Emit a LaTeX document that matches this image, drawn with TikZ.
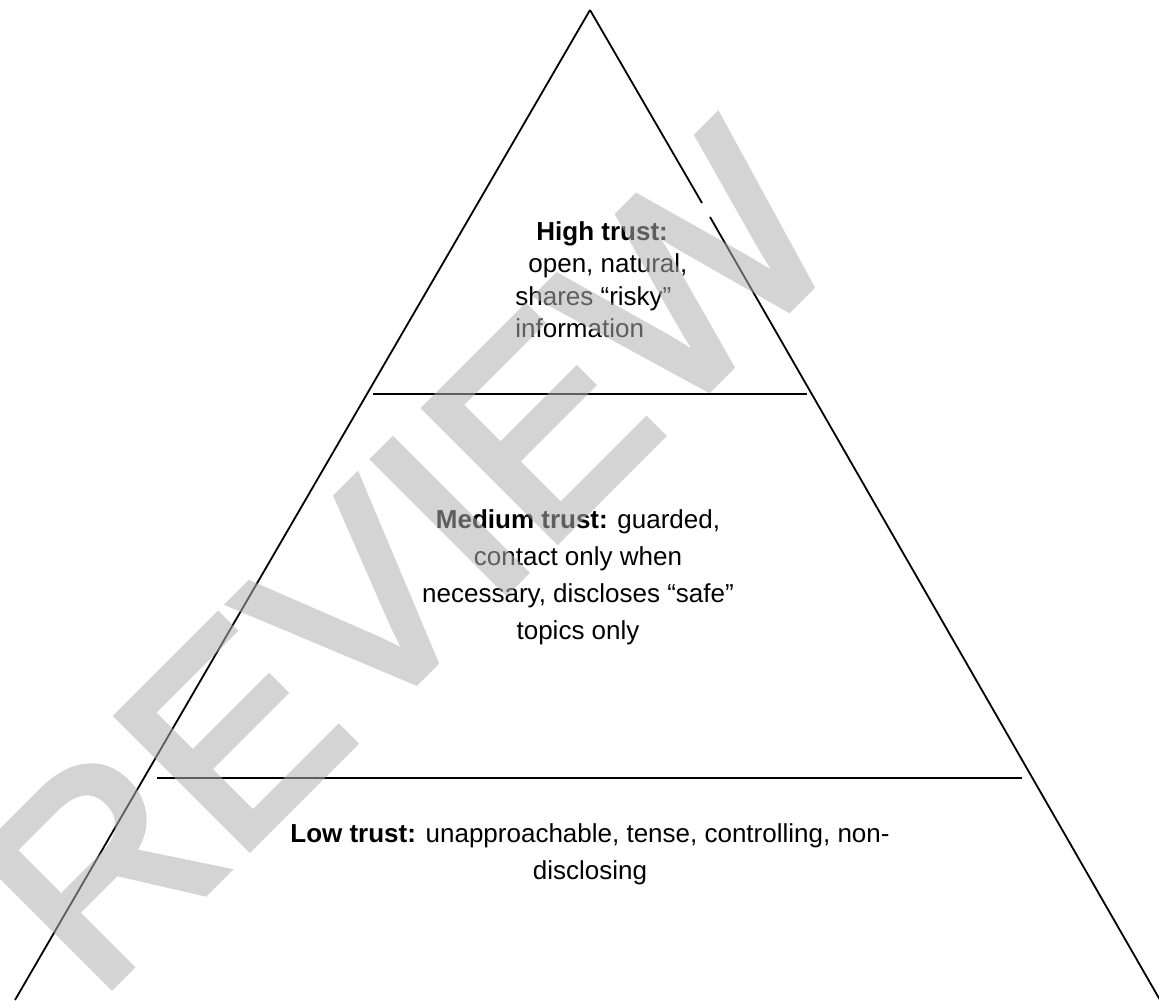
\documentclass[tikz,border=0pt]{standalone}
\usepackage{fontspec}
\setmainfont{Liberation Sans}
\newfontfamily\stampfont[FakeBold=3]{Liberation Sans}

\begin{document}
\begin{tikzpicture}[x=0.5pt,y=0.5pt,yscale=-1,xscale=1,
  edge/.style={line width=0.9pt},
  tier/.style={inner sep=0pt, align=center, font=\fontsize{13}{18.5}\selectfont}]
\useasboundingbox (0,0) rectangle (1159,1000);

%Straight Lines [pyramid sides]
\draw [edge] (590,10) -- (15,1000) ;
\draw [edge] (590,10) -- (702,203) ;
\draw [edge] (710,217) -- (1160,1000) ;
%Straight Lines [tier borders]
\draw [edge] (373,394) -- (807,394) ;
\draw [edge] (157,778) -- (1022,778) ;

% Text Node
\draw (515,221) node (high) [anchor=north west, inner sep=0pt, align=left, font=\fontsize{13}{16.25}\selectfont] {\hspace*{10.5pt}\textbf{High trust:}\\\hspace*{6.5pt}open, natural,\\shares “risky”\\information};
% Text Node
\draw (578,509) node (medium) [tier, anchor=north] {\textbf{Medium trust:} guarded,\\contact only when\\necessary, discloses “safe”\\topics only};
% Text Node
\draw (590,823) node (low) [tier, anchor=north] {\textbf{Low trust:} unapproachable, tense, controlling, non-\\disclosing};

% Watermark
\begin{scope}[transparency group, opacity=0.54]
\draw (96,1001) node (stamp) [anchor=base west, rotate=45, inner sep=0pt, text=black!31.5, font=\stampfont\fontsize{135}{135}\selectfont] {REVIEW};
\end{scope}

\end{tikzpicture}
\end{document}
